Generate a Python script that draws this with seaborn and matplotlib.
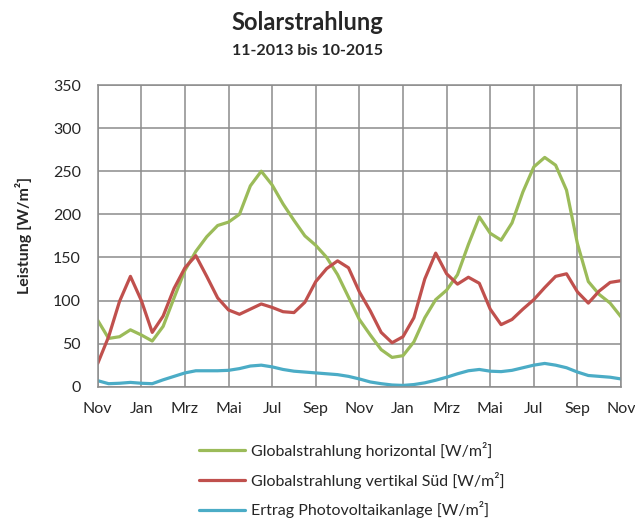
import matplotlib
matplotlib.use("Agg")
import matplotlib.pyplot as plt
import numpy as np
import pandas as pd
import seaborn as sns

# half-month steps from Nov 2013 (0) to Nov 2015 (24)
months = np.arange(0, 24.5, 0.5)

global_horizontal = [
    77, 56, 58, 66, 60, 53, 70, 103, 135, 157,
    174, 187, 191, 200, 233, 250, 234, 212, 193, 175,
    164, 150, 130, 104, 78, 60, 43, 34, 36, 52,
    80, 101, 112, 130, 165, 197, 178, 170, 190, 226,
    255, 266, 257, 228, 166, 122, 107, 97, 81,
]

global_vertical_sued = [
    27, 58, 99, 128, 100, 63, 82, 114, 138, 152,
    128, 103, 89, 84, 90, 96, 92, 87, 86, 98,
    122, 137, 146, 138, 110, 88, 63, 51, 58, 80,
    125, 155, 131, 119, 127, 120, 90, 72, 78, 90,
    101, 115, 128, 131, 110, 97, 111, 121, 123,
]

ertrag_pv = [
    7, 3.5, 4, 5, 4, 3.5, 8, 12, 16, 18.5,
    18.5, 18.5, 19, 21, 24, 25, 23, 20, 18, 17,
    16, 15, 14, 12, 9, 5.5, 3.5, 2, 1.5, 2.5,
    4.5, 7.5, 11, 15, 18.5, 20, 18, 17.5, 19, 22,
    25, 27, 25, 22, 17, 13, 12, 11, 9,
]

tick_labels = ["Nov", "Jan", "Mrz", "Mai", "Jul", "Sep",
               "Nov", "Jan", "Mrz", "Mai", "Jul", "Sep", "Nov"]

series_names = [
    "Globalstrahlung horizontal [W/m²]",
    "Globalstrahlung vertikal Süd [W/m²]",
    "Ertrag Photovoltaikanlage [W/m²]",
]
colors = ["#9BBB59", "#C0504D", "#4BACC6"]

sns.set_style("white")
plt.rcParams["font.family"] = ["Lato", "DejaVu Sans"]

df = pd.DataFrame({"month": months,
                   series_names[0]: global_horizontal,
                   series_names[1]: global_vertical_sued,
                   series_names[2]: ertrag_pv})
long = df.melt(id_vars="month", var_name="serie", value_name="wert")

fig = plt.figure(figsize=(6.35, 5.19), dpi=100)
ax = fig.add_axes([0.1539, 0.2549, 0.978 - 0.1539, 0.8362 - 0.2549])

sns.lineplot(data=long, x="month", y="wert", hue="serie",
             palette=colors, linewidth=2.3, ax=ax, legend=False)
for line in ax.get_lines():
    line.set_solid_joinstyle("round")

grid_col = "#8c8c8c"
ax.set_xlim(0, 24)
ax.set_ylim(0, 350)
ax.set_xticks(np.arange(0, 25, 2))
ax.set_xticklabels(tick_labels)
ax.set_yticks(np.arange(0, 351, 50))
ax.grid(True, color=grid_col, linewidth=1.1)
ax.set_axisbelow(True)
for s in ax.spines.values():
    s.set_color(grid_col)
    s.set_linewidth(1.1)
ax.tick_params(axis="x", length=0, labelsize=11.5, pad=11)
ax.tick_params(axis="y", length=0, labelsize=11.5, pad=12)
ax.set_xlabel("")
ax.set_ylabel("Leistung [W/m²]", fontsize=11.5, fontweight="bold", labelpad=15)

fig.text(0.484, 0.957, "Solarstrahlung", ha="center", va="center",
         fontsize=17, fontweight="bold")
fig.text(0.484, 0.902, "11-2013 bis 10-2015", ha="center", va="center",
         fontsize=11.5, fontweight="bold")

handles = [plt.Line2D([], [], color=c, linewidth=2.3) for c in colors]
fig.legend(handles, series_names, loc="upper left",
           bbox_to_anchor=(0.303, 0.161), frameon=False, fontsize=11.5,
           handlelength=2.9, handletextpad=0.35, labelspacing=0.80,
           borderaxespad=0)

fig.savefig("out.png", dpi=100)
